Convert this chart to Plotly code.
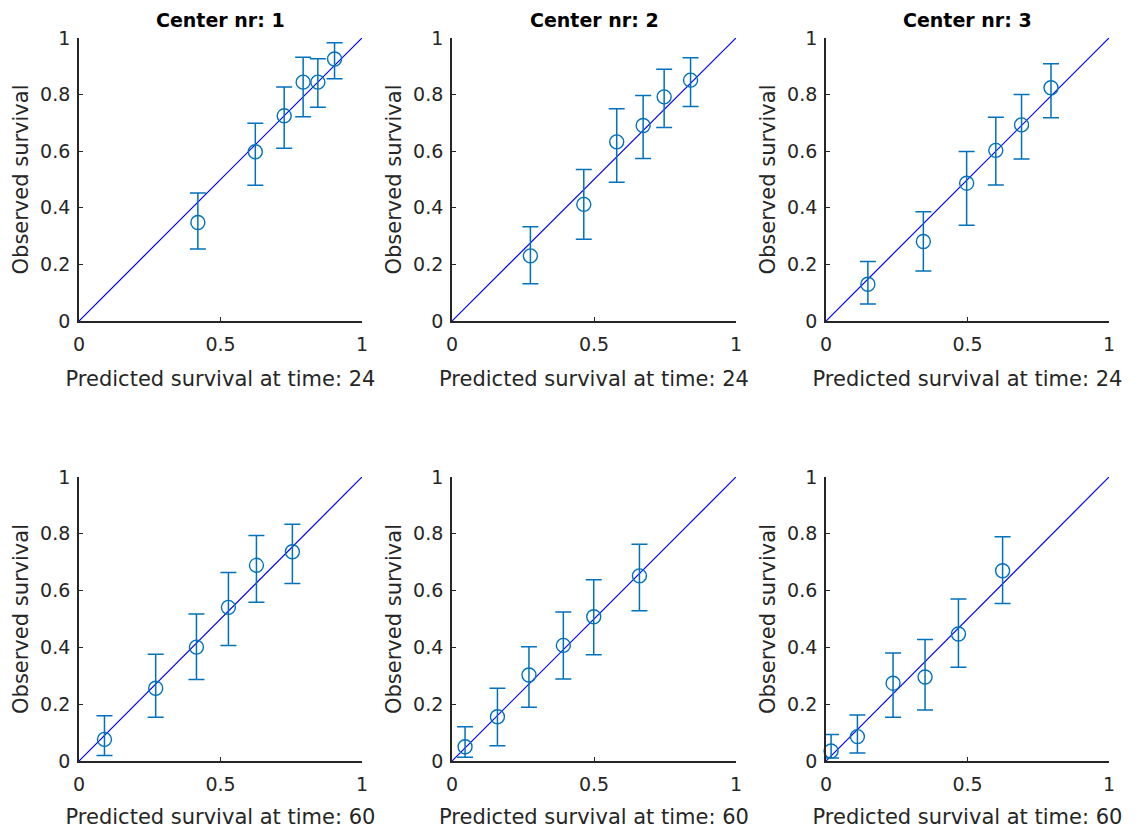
import plotly.graph_objects as go

# ---- data ----
centers = ["1", "2", "3"]
times = ["24", "60"]

# time 24
pred_24_c1 = [0.42, 0.623, 0.725, 0.792, 0.844, 0.903]
obs_24_c1 = [0.348, 0.598, 0.725, 0.844, 0.844, 0.926]
lo_24_c1 = [0.254, 0.480, 0.610, 0.722, 0.755, 0.856]
hi_24_c1 = [0.452, 0.699, 0.827, 0.932, 0.927, 0.983]

pred_24_c2 = [0.276, 0.464, 0.580, 0.673, 0.747, 0.840]
obs_24_c2 = [0.230, 0.412, 0.633, 0.691, 0.792, 0.851]
lo_24_c2 = [0.132, 0.289, 0.490, 0.574, 0.684, 0.758]
hi_24_c2 = [0.333, 0.535, 0.750, 0.797, 0.890, 0.930]

pred_24_c3 = [0.148, 0.344, 0.497, 0.600, 0.691, 0.795]
obs_24_c3 = [0.130, 0.281, 0.487, 0.603, 0.693, 0.824]
lo_24_c3 = [0.060, 0.177, 0.338, 0.481, 0.572, 0.718]
hi_24_c3 = [0.210, 0.386, 0.599, 0.720, 0.800, 0.909]

# time 60
pred_60_c1 = [0.090, 0.271, 0.415, 0.528, 0.627, 0.754]
obs_60_c1 = [0.076, 0.256, 0.401, 0.541, 0.689, 0.737]
lo_60_c1 = [0.019, 0.154, 0.287, 0.407, 0.559, 0.625]
hi_60_c1 = [0.159, 0.376, 0.518, 0.664, 0.794, 0.834]

pred_60_c2 = [0.046, 0.160, 0.271, 0.392, 0.499, 0.660]
obs_60_c2 = [0.050, 0.156, 0.303, 0.407, 0.508, 0.652]
lo_60_c2 = [0.013, 0.054, 0.189, 0.289, 0.374, 0.529]
hi_60_c2 = [0.121, 0.256, 0.402, 0.525, 0.638, 0.763]

pred_60_c3 = [0.018, 0.111, 0.237, 0.350, 0.468, 0.624]
obs_60_c3 = [0.035, 0.086, 0.274, 0.296, 0.447, 0.670]
lo_60_c3 = [0.011, 0.028, 0.154, 0.180, 0.330, 0.555]
hi_60_c3 = [0.093, 0.162, 0.380, 0.428, 0.570, 0.790]

panels = [
    (pred_24_c1, obs_24_c1, lo_24_c1, hi_24_c1),
    (pred_24_c2, obs_24_c2, lo_24_c2, hi_24_c2),
    (pred_24_c3, obs_24_c3, lo_24_c3, hi_24_c3),
    (pred_60_c1, obs_60_c1, lo_60_c1, hi_60_c1),
    (pred_60_c2, obs_60_c2, lo_60_c2, hi_60_c2),
    (pred_60_c3, obs_60_c3, lo_60_c3, hi_60_c3),
]

x_ticks = [0, 0.5, 1]
x_ticktext = ["0", "0.5", "1"]
y_ticks = [0, 0.2, 0.4, 0.6, 0.8, 1]
y_ticktext = ["0", "0.2", "0.4", "0.6", "0.8", "1"]

diag_x = [0, 1]
diag_y = [0, 1]

W, H = 1139, 829
x_pix = [(79, 362), (452, 736), (826, 1109)]
y_pix = [(38, 321), (477, 761)]

FONT = "'DejaVu Sans', Arial, sans-serif"
AX = "#262626"
MARK = "#0072BD"

fig = go.Figure()
annotations = []

for i, (px, ob, lo, hi) in enumerate(panels):
    r, c = divmod(i, 3)
    n = i + 1
    xa = "x" if n == 1 else f"x{n}"
    ya = "y" if n == 1 else f"y{n}"
    fig.add_trace(go.Scatter(
        x=diag_x, y=diag_y, mode="lines", xaxis=xa, yaxis=ya,
        line=dict(color="#0000FF", width=1.2), showlegend=False, hoverinfo="skip",
    ))
    fig.add_trace(go.Scatter(
        x=px, y=ob, mode="markers", xaxis=xa, yaxis=ya,
        marker=dict(symbol="circle-open", size=14, color=MARK, line=dict(width=1.4, color=MARK)),
        error_y=dict(type="data", symmetric=False,
                     array=[h - o for h, o in zip(hi, ob)],
                     arrayminus=[o - l for o, l in zip(ob, lo)],
                     color=MARK, thickness=1.5, width=8),
        cliponaxis=False, showlegend=False, hoverinfo="x+y",
    ))
    x0, x1 = x_pix[c]
    y0, y1 = y_pix[r]
    common = dict(range=[0, 1], showline=True, linecolor=AX, linewidth=1.8,
                  ticks="inside", ticklen=4, tickcolor=AX, tickwidth=1.2,
                  showgrid=False, zeroline=False, mirror=False, automargin=False,
                  tickfont=dict(family=FONT, size=19, color=AX),
                  fixedrange=True)
    fig.layout[("xaxis" if n == 1 else f"xaxis{n}")] = dict(
        common, domain=[x0 / W, x1 / W], anchor=ya,
        tickvals=x_ticks, ticktext=x_ticktext, ticklabelstandoff=5,
        title=dict(text=f"Predicted survival at time: {times[r]}",
                   font=dict(family=FONT, size=21, color=AX), standoff=18),
    )
    fig.layout[("yaxis" if n == 1 else f"yaxis{n}")] = dict(
        common, domain=[1 - y1 / H, 1 - y0 / H], anchor=xa,
        tickvals=y_ticks, ticktext=y_ticktext, ticklabelstandoff=3,
        title=dict(text="Observed survival",
                   font=dict(family=FONT, size=21, color=AX), standoff=6),
    )
    if r == 0:
        annotations.append(dict(
            text=f"<b>Center nr: {centers[c]}</b>", xref="paper", yref="paper",
            x=(x0 + x1) / 2 / W, y=1 - 20 / H, xanchor="center", yanchor="middle",
            showarrow=False, font=dict(family=FONT, size=19, color="black"),
        ))

fig.update_layout(
    width=W, height=H, margin=dict(l=0, r=0, t=0, b=0, autoexpand=False),
    paper_bgcolor="white", plot_bgcolor="white",
    annotations=annotations,
)

fig.write_html("out.html")
